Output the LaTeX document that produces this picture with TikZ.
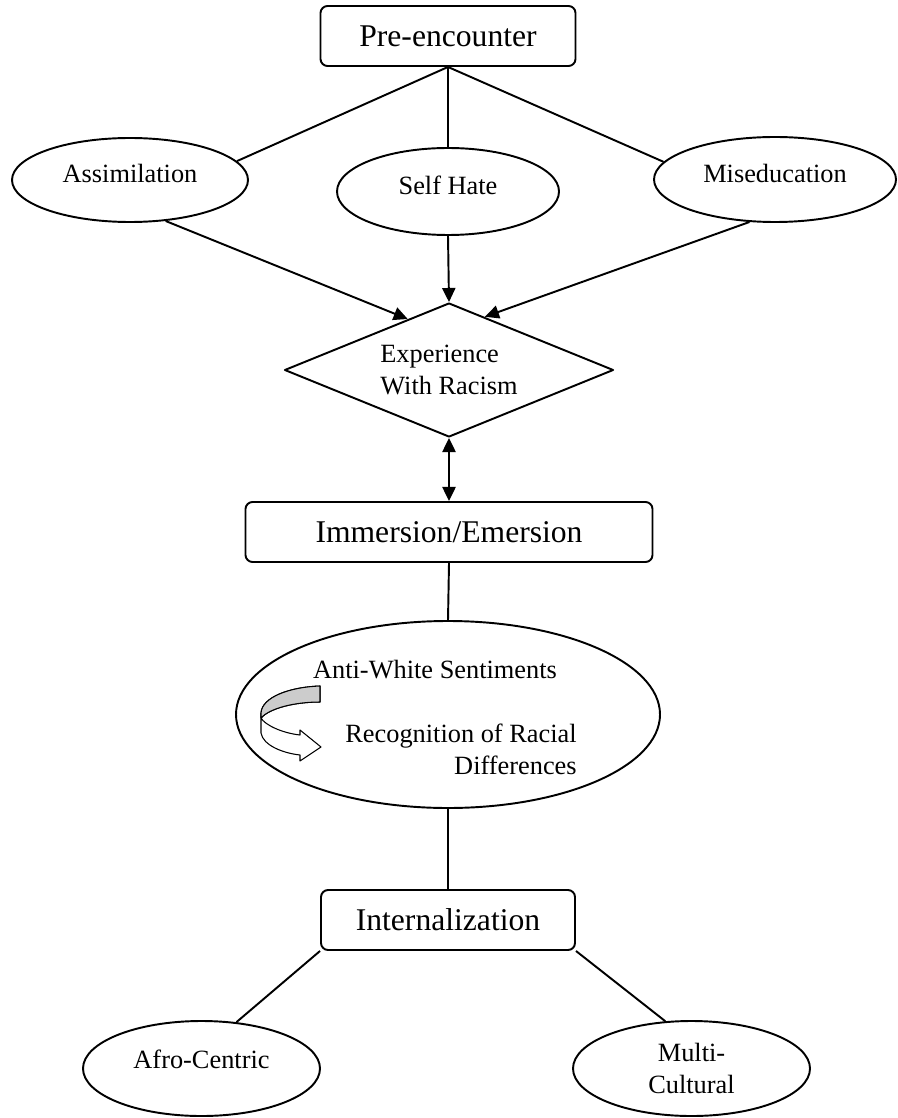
\documentclass[tikz,border=0pt]{standalone}
\usepackage{fontspec}
\setmainfont{Liberation Serif}
\usetikzlibrary{shapes.geometric,arrows.meta}
\newcommand{\pxu}{0.02cm}

\begin{document}
\begin{tikzpicture}[
				x=0.02cm, y=-0.02cm,
				line join=round,
				>={Triangle[length=8pt,width=7.5pt]},
				font=\fontsize{15}{18}\selectfont,
				stage/.style={draw, line width=1.1pt, rounded corners=4pt, inner sep=0pt,
					font=\fontsize{18}{22}\selectfont},
				oval/.style={draw, ellipse, line width=1.1pt, inner sep=0pt},
				link/.style={line width=1.1pt}
				]
				
				% Khung
				\useasboundingbox (0,0) rectangle (897,1118);
				
				% Các giai đoạn
				\node[stage, minimum width=255*\pxu, minimum height=60*\pxu] (pre) at (448,36) {Pre-encounter};
				\node[stage, minimum width=407*\pxu, minimum height=60*\pxu] (immer) at (449,532) {Immersion/Emersion};
				\node[stage, minimum width=254*\pxu, minimum height=60*\pxu] (intern) at (448,920) {Internalization};
				
				% Hàng trên
				\node[oval, minimum width=236*\pxu, minimum height=84*\pxu, text height=10pt, text depth=7pt] (assim) at (130,180) {Assimilation};
				\node[oval, minimum width=222*\pxu, minimum height=87*\pxu, text height=10pt, text depth=7pt] (selfhate) at (448,191.5) {Self Hate};
				\node[oval, minimum width=242*\pxu, minimum height=85*\pxu, text height=10pt, text depth=7pt] (misedu) at (775,179.5) {Miseducation};
				
				% Hình thoi
				\node[draw, diamond, line width=1.1pt, aspect=2.45, inner sep=0pt, align=left,
					minimum width=329*\pxu, minimum height=134*\pxu] (exper) at (449,370) {Experience\\With Racism};
				
				% Elip giữa
				\node[oval, minimum width=424*\pxu, minimum height=187*\pxu] (sentim) at (448,714.5) {};
				\node[anchor=base, inner sep=0pt] (anti) at (435,678) {Anti-White Sentiments};
				\node[anchor=north east, align=right, inner sep=0pt] (recog) at (577,724) {Recognition of Racial\\Differences};
				
				% Mũi tên cong
				\filldraw[fill=white, line width=0.6pt] (320,686) .. controls (290,687) and (262,697) .. (261,713)
					-- (261,733) .. controls (263,745) and (282,753) .. (300,755)
					-- (300,761) -- (321,747) -- (300,730) -- (300,735)
					.. controls (282,733) and (265,725) .. (261,718)
					.. controls (270,708) and (295,702) .. (320,702) -- cycle;
				\filldraw[fill=gray!40, line width=0.6pt] (320,686) .. controls (290,687) and (262,697) .. (261,713)
					-- (261,718) .. controls (270,708) and (295,702) .. (320,702) -- cycle;
				
				% Hàng dưới
				\node[oval, minimum width=237*\pxu, minimum height=95*\pxu, text height=10pt, text depth=10.5pt] (afro) at (201.5,1068.5) {Afro-Centric};
				\node[oval, minimum width=237*\pxu, minimum height=95*\pxu, align=center] (multi) at (691.5,1068.5) {Multi-\\Cultural};
				
				% Đường nối
				\draw[link] (pre.south) -- (assim.10.5);
				\draw[link] (pre.south) -- (selfhate.north);
				\draw[link] (pre.south) -- (misedu.171);
				
				\draw[link, ->] (assim.-49) -- (exper.129);
				\draw[link, ->] (selfhate.south) -- (exper.north);
				\draw[link, ->] (misedu.239) -- (exper.56);
				
				\draw[link, <->] (exper.south) -- (immer.north);
				\draw[link] (immer.south) -- (sentim.north);
				\draw[link] (sentim.south) -- (intern.north);
				
				\draw[link] (intern.south west) -- (afro.53);
				\draw[link] (intern.south east) -- (multi.119);
				
			\end{tikzpicture}
\end{document}
